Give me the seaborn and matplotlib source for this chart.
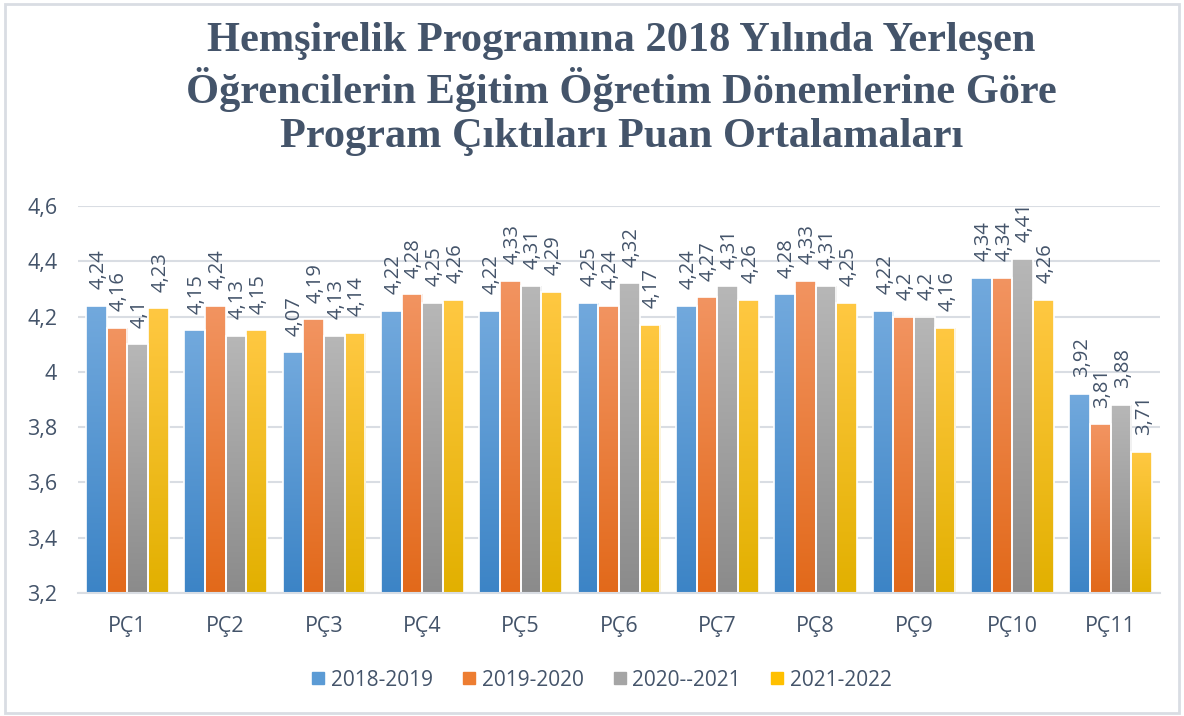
import numpy as np
import pandas as pd
import matplotlib
matplotlib.use("Agg")
import matplotlib.pyplot as plt
import seaborn as sns
from matplotlib.colors import LinearSegmentedColormap
from matplotlib.lines import Line2D
from matplotlib.patches import Rectangle

categories = ["PÇ1", "PÇ2", "PÇ3", "PÇ4", "PÇ5", "PÇ6", "PÇ7", "PÇ8", "PÇ9", "PÇ10", "PÇ11"]
series_names = ["2018-2019", "2019-2020", "2020--2021", "2021-2022"]
v2018 = [4.24, 4.15, 4.07, 4.22, 4.22, 4.25, 4.24, 4.28, 4.22, 4.34, 3.92]
v2019 = [4.16, 4.24, 4.19, 4.28, 4.33, 4.24, 4.27, 4.33, 4.20, 4.34, 3.81]
v2020 = [4.10, 4.13, 4.13, 4.25, 4.31, 4.32, 4.31, 4.31, 4.20, 4.41, 3.88]
v2021 = [4.23, 4.15, 4.14, 4.26, 4.29, 4.17, 4.26, 4.25, 4.16, 4.26, 3.71]
label_texts = [
    ["4,24", "4,15", "4,07", "4,22", "4,22", "4,25", "4,24", "4,28", "4,22", "4,34", "3,92"],
    ["4,16", "4,24", "4,19", "4,28", "4,33", "4,24", "4,27", "4,33", "4,2", "4,34", "3,81"],
    ["4,1", "4,13", "4,13", "4,25", "4,31", "4,32", "4,31", "4,31", "4,2", "4,41", "3,88"],
    ["4,23", "4,15", "4,14", "4,26", "4,29", "4,17", "4,26", "4,25", "4,16", "4,26", "3,71"],
]
yticks = [3.2, 3.4, 3.6, 3.8, 4.0, 4.2, 4.4, 4.6]
ytick_labels = ["3,2", "3,4", "3,6", "3,8", "4", "4,2", "4,4", "4,6"]
title = "Hemşirelik Programına 2018 Yılında Yerleşen\nÖğrencilerin Eğitim Öğretim Dönemlerine Göre\nProgram Çıktıları Puan Ortalamaları"

solid_colors = ["#5b9bd5", "#ed7d31", "#a5a5a5", "#ffc000"]
grad_top = ["#72a9dd", "#f29461", "#b7b7b7", "#ffc842"]
grad_bot = ["#3c84c6", "#e2691a", "#8b8b8b", "#e2b000"]

df = pd.DataFrame({
    "cat": categories * 4,
    "series": np.repeat(series_names, len(categories)),
    "value": v2018 + v2019 + v2020 + v2021,
})

sns.set_theme(style="white")
plt.rcParams["font.family"] = ["Open Sans", "DejaVu Sans"]
text_col = "#44546a"

fig = plt.figure(figsize=(11.84, 7.16), dpi=100)
ax = fig.add_axes([0.0659, 0.1718, 0.9138, 0.5405])
sns.barplot(data=df, x="cat", y="value", hue="series", order=categories,
            hue_order=series_names, palette=solid_colors, width=0.84,
            ax=ax, legend=False, edgecolor="white", linewidth=1.2)

ax.set_ylim(3.2, 4.6)
ax.set_xlim(-0.5, len(categories) - 0.5)
ax.set_yticks(yticks)
ax.set_yticklabels(ytick_labels)
ax.set_xlabel("")
ax.set_ylabel("")
ax.yaxis.grid(True, color="#d9dde3", linewidth=1.5)
ax.set_axisbelow(True)
for s in ["left", "right", "top"]:
    ax.spines[s].set_visible(False)
ax.spines["bottom"].set_color("#d9dde3")
ax.spines["bottom"].set_linewidth(1.5)
ax.tick_params(axis="both", length=0, labelsize=15.5, colors="#595959", labelcolor=text_col)
ax.tick_params(axis="y", pad=15)
ax.tick_params(axis="x", pad=16.5)

grad = np.linspace(1, 0, 256).reshape(-1, 1)
for i, cont in enumerate(ax.containers):
    cmap = LinearSegmentedColormap.from_list(f"g{i}", [grad_bot[i], grad_top[i]])
    for j, bar in enumerate(cont):
        x0 = bar.get_x()
        w = bar.get_width()
        h = bar.get_y() + bar.get_height()
        y0 = 3.2
        im = ax.imshow(grad, cmap=cmap, aspect="auto", extent=[x0, x0 + w, y0, h],
                       zorder=bar.get_zorder(), interpolation="bilinear")
        im.set_clip_path(bar)
        bar.set_facecolor("none")
        bar.set_zorder(bar.get_zorder() + 0.1)
        ax.annotate(label_texts[i][j], (x0 + w / 2, h), xytext=(1.5, 12),
                    textcoords="offset points", rotation=90, ha="center", va="bottom",
                    fontsize=14.5, color=text_col, annotation_clip=False)
ax.set_xlim(-0.5, len(categories) - 0.5)
ax.set_ylim(3.2, 4.6)

handles = [Line2D([0], [0], marker="s", linestyle="none", markersize=9,
                  markerfacecolor=c, markeredgecolor=c) for c in solid_colors]
fig.legend(handles, series_names, loc="center", bbox_to_anchor=(0.507, 0.05), ncol=4,
           frameon=False, fontsize=15, labelcolor=text_col, handletextpad=0.15,
           columnspacing=1.3, handlelength=0.9)

fig.text(0.525, 0.876, title, ha="center", va="center", fontsize=30.5, fontweight="bold",
         family="Liberation Serif", color=text_col, linespacing=1.2)

fig.patches.append(Rectangle((0.004, 0.004), 0.992, 0.99, transform=fig.transFigure,
                             fill=False, edgecolor="#d9dde3", linewidth=2))

fig.savefig("out.png", dpi=100, facecolor="white")
